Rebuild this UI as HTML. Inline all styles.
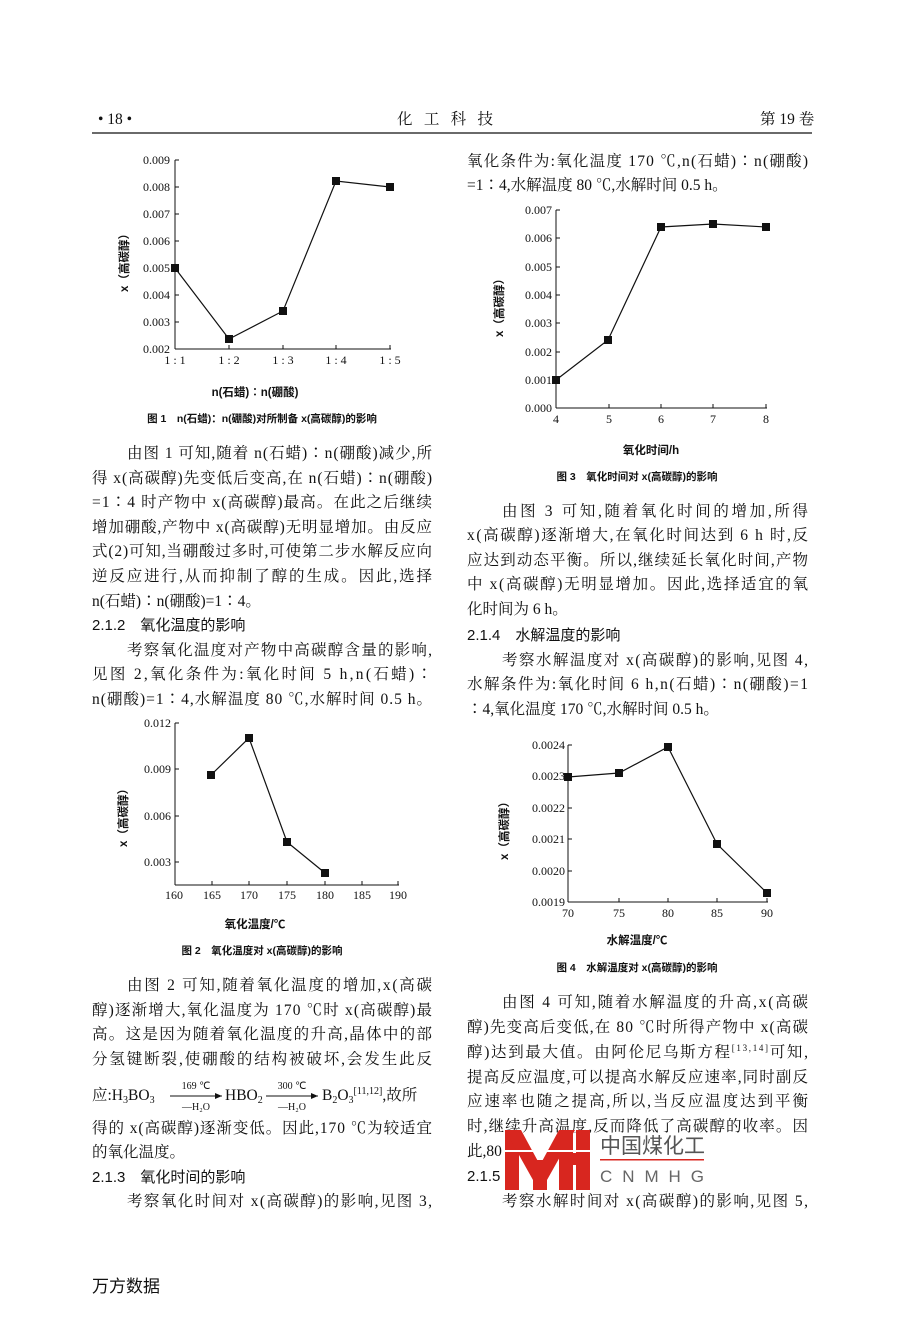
<!DOCTYPE html>
<html><head><meta charset="utf-8"><style>
html,body{margin:0;padding:0;background:#fff;}
svg{display:block;}
.t{font-family:"Liberation Serif","Noto Serif CJK SC","Noto Sans CJK SC",serif;font-size:15.5px;fill:#111;}
.h{font-family:"Liberation Sans","Noto Sans CJK SC",sans-serif;font-size:15px;fill:#111;}
.tk{font-family:"Liberation Serif",serif;font-size:12px;fill:#111;}
.lb{font-family:"Liberation Sans","Noto Sans CJK SC",sans-serif;font-size:11.5px;fill:#111;font-weight:bold;}
.cp{font-family:"Liberation Sans","Noto Sans CJK SC",sans-serif;font-size:10.5px;fill:#111;font-weight:bold;}
</style></head><body>
<svg width="904" height="1320" viewBox="0 0 904 1320" xmlns="http://www.w3.org/2000/svg">
<rect width="904" height="1320" fill="#fff"/>
<!-- header -->
<text class="t" x="98" y="124">•  18  •</text>
<text class="t" x="397" y="124" textLength="96" lengthAdjust="spacing">化 工 科 技</text>
<text class="t" x="760" y="124">第 19 卷</text>
<line x1="92" y1="133" x2="812" y2="133" stroke="#111" stroke-width="1.3"/>

<!-- Figure 1 -->
<g stroke="#111" fill="none" stroke-width="1">
<line x1="175" y1="160" x2="175" y2="349"/><line x1="175" y1="349" x2="391" y2="349"/>
<g stroke-width="1"><line x1="175" y1="160" x2="179" y2="160"/><line x1="175" y1="187" x2="179" y2="187"/><line x1="175" y1="214" x2="179" y2="214"/><line x1="175" y1="241" x2="179" y2="241"/><line x1="175" y1="268" x2="179" y2="268"/><line x1="175" y1="295" x2="179" y2="295"/><line x1="175" y1="322" x2="179" y2="322"/>
<line x1="229" y1="349" x2="229" y2="345"/><line x1="283" y1="349" x2="283" y2="345"/><line x1="336" y1="349" x2="336" y2="345"/><line x1="390" y1="349" x2="390" y2="345"/></g>
<polyline points="175,268 229,339 283,311 336,181 390,187" stroke-width="1.2"/>
</g>
<g fill="#111"><rect x="171" y="264" width="8" height="8"/><rect x="225" y="335" width="8" height="8"/><rect x="279" y="307" width="8" height="8"/><rect x="332" y="177" width="8" height="8"/><rect x="386" y="183" width="8" height="8"/></g>
<g class="tk" text-anchor="end"><text x="170" y="164">0.009</text><text x="170" y="191">0.008</text><text x="170" y="218">0.007</text><text x="170" y="245">0.006</text><text x="170" y="272">0.005</text><text x="170" y="299">0.004</text><text x="170" y="326">0.003</text><text x="170" y="353">0.002</text></g>
<g class="tk" text-anchor="middle"><text x="175" y="364">1 : 1</text><text x="229" y="364">1 : 2</text><text x="283" y="364">1 : 3</text><text x="336" y="364">1 : 4</text><text x="390" y="364">1 : 5</text></g>
<text class="lb" transform="translate(128,260) rotate(-90)" text-anchor="middle">x（高碳醇）</text>
<text class="lb" x="255" y="396" text-anchor="middle">n(石蜡)∶n(硼酸)</text>
<text class="cp" x="262" y="422" text-anchor="middle">图 1　n(石蜡)：n(硼酸)对所制备 x(高碳醇)的影响</text>

<!-- Left text block 1 -->
<g class="t">
<text x="127" y="458" textLength="305" lengthAdjust="spacing">由图 1 可知,随着 n(石蜡)∶n(硼酸)减少,所</text>
<text x="92" y="483" textLength="340" lengthAdjust="spacing">得 x(高碳醇)先变低后变高,在 n(石蜡)∶n(硼酸)</text>
<text x="92" y="507" textLength="340" lengthAdjust="spacing">=1∶4 时产物中 x(高碳醇)最高。在此之后继续</text>
<text x="92" y="532" textLength="340" lengthAdjust="spacing">增加硼酸,产物中 x(高碳醇)无明显增加。由反应</text>
<text x="92" y="556" textLength="340" lengthAdjust="spacing">式(2)可知,当硼酸过多时,可使第二步水解反应向</text>
<text x="92" y="581" textLength="340" lengthAdjust="spacing">逆反应进行,从而抑制了醇的生成。因此,选择</text>
<text x="92" y="606">n(石蜡)∶n(硼酸)=1∶4。</text>
<text x="92" y="630" class="h">2.1.2　氧化温度的影响</text>
<text x="127" y="655" textLength="305" lengthAdjust="spacing">考察氧化温度对产物中高碳醇含量的影响,</text>
<text x="92" y="679" textLength="340" lengthAdjust="spacing">见图 2,氧化条件为:氧化时间 5 h,n(石蜡)∶</text>
<text x="92" y="704" textLength="340" lengthAdjust="spacing">n(硼酸)=1∶4,水解温度 80 ℃,水解时间 0.5 h。</text>
</g>

<!-- Figure 2 -->
<g stroke="#111" fill="none" stroke-width="1">
<line x1="175" y1="723" x2="175" y2="885"/><line x1="175" y1="885" x2="399" y2="885"/>
<line x1="175" y1="723" x2="179" y2="723"/><line x1="175" y1="769" x2="179" y2="769"/><line x1="175" y1="816" x2="179" y2="816"/><line x1="175" y1="862" x2="179" y2="862"/>
<line x1="212" y1="885" x2="212" y2="881"/><line x1="249" y1="885" x2="249" y2="881"/><line x1="287" y1="885" x2="287" y2="881"/><line x1="325" y1="885" x2="325" y2="881"/><line x1="362" y1="885" x2="362" y2="881"/><line x1="398" y1="885" x2="398" y2="881"/>
<polyline points="211,775 249,738 287,842 325,873" stroke-width="1.2"/>
</g>
<g fill="#111"><rect x="207" y="771" width="8" height="8"/><rect x="245" y="734" width="8" height="8"/><rect x="283" y="838" width="8" height="8"/><rect x="321" y="869" width="8" height="8"/></g>
<g class="tk" text-anchor="end"><text x="171" y="727">0.012</text><text x="171" y="773">0.009</text><text x="171" y="820">0.006</text><text x="171" y="866">0.003</text></g>
<g class="tk" text-anchor="middle"><text x="174" y="899">160</text><text x="212" y="899">165</text><text x="249" y="899">170</text><text x="287" y="899">175</text><text x="325" y="899">180</text><text x="362" y="899">185</text><text x="398" y="899">190</text></g>
<text class="lb" transform="translate(127,815) rotate(-90)" text-anchor="middle">x（高碳醇）</text>
<text class="lb" x="255" y="928" text-anchor="middle">氧化温度/℃</text>
<text class="cp" x="262" y="954" text-anchor="middle">图 2　氧化温度对 x(高碳醇)的影响</text>

<!-- Left text block 2 -->
<g class="t">
<text x="127" y="990" textLength="305" lengthAdjust="spacing">由图 2 可知,随着氧化温度的增加,x(高碳</text>
<text x="92" y="1015" textLength="340" lengthAdjust="spacing">醇)逐渐增大,氧化温度为 170 ℃时 x(高碳醇)最</text>
<text x="92" y="1039" textLength="340" lengthAdjust="spacing">高。这是因为随着氧化温度的升高,晶体中的部</text>
<text x="92" y="1064" textLength="340" lengthAdjust="spacing">分氢键断裂,使硼酸的结构被破坏,会发生此反</text>
<text x="92" y="1100">应:H<tspan font-size="10" dy="3">3</tspan><tspan dy="-3">BO</tspan><tspan font-size="10" dy="3">3</tspan></text>
<text x="225" y="1100">HBO<tspan font-size="10" dy="3">2</tspan></text>
<text x="322" y="1100">B<tspan font-size="10" dy="3">2</tspan><tspan dy="-3">O</tspan><tspan font-size="10" dy="3">3</tspan><tspan font-size="10" dy="-9">[11,12]</tspan><tspan dy="6">,故所</tspan></text>
<text x="92" y="1133" textLength="340" lengthAdjust="spacing">得的 x(高碳醇)逐渐变低。因此,170 ℃为较适宜</text>
<text x="92" y="1157">的氧化温度。</text>
<text x="92" y="1182" class="h">2.1.3　氧化时间的影响</text>
<text x="127" y="1206" textLength="305" lengthAdjust="spacing">考察氧化时间对 x(高碳醇)的影响,见图 3,</text>
</g>
<g stroke="#111" stroke-width="1"><line x1="170" y1="1096" x2="222" y2="1096"/><line x1="266" y1="1096" x2="318" y2="1096"/></g>
<polygon points="222,1096 215,1093 215,1099" fill="#111"/><polygon points="318,1096 311,1093 311,1099" fill="#111"/>
<g style="font-family:'Liberation Serif',serif;font-size:10px;fill:#111" text-anchor="middle">
<text x="196" y="1089">169 ℃</text><text x="196" y="1110">—H₂O</text>
<text x="292" y="1089">300 ℃</text><text x="292" y="1110">—H₂O</text></g>

<!-- Right column top -->
<g class="t">
<text x="467" y="166" textLength="341" lengthAdjust="spacing">氧化条件为:氧化温度 170 ℃,n(石蜡)∶n(硼酸)</text>
<text x="467" y="190">=1∶4,水解温度 80 ℃,水解时间 0.5 h。</text>
</g>

<!-- Figure 3 -->
<g stroke="#111" fill="none" stroke-width="1">
<line x1="556" y1="210" x2="556" y2="408"/><line x1="556" y1="408" x2="767" y2="408"/>
<line x1="556" y1="210" x2="560" y2="210"/><line x1="556" y1="238" x2="560" y2="238"/><line x1="556" y1="267" x2="560" y2="267"/><line x1="556" y1="295" x2="560" y2="295"/><line x1="556" y1="323" x2="560" y2="323"/><line x1="556" y1="352" x2="560" y2="352"/><line x1="556" y1="380" x2="560" y2="380"/>
<line x1="609" y1="408" x2="609" y2="404"/><line x1="661" y1="408" x2="661" y2="404"/><line x1="713" y1="408" x2="713" y2="404"/><line x1="766" y1="408" x2="766" y2="404"/>
<polyline points="556,380 608,340 661,227 713,224 766,227" stroke-width="1.2"/>
</g>
<g fill="#111"><rect x="552" y="376" width="8" height="8"/><rect x="604" y="336" width="8" height="8"/><rect x="657" y="223" width="8" height="8"/><rect x="709" y="220" width="8" height="8"/><rect x="762" y="223" width="8" height="8"/></g>
<g class="tk" text-anchor="end"><text x="552" y="214">0.007</text><text x="552" y="242">0.006</text><text x="552" y="271">0.005</text><text x="552" y="299">0.004</text><text x="552" y="327">0.003</text><text x="552" y="356">0.002</text><text x="552" y="384">0.001</text><text x="552" y="412">0.000</text></g>
<g class="tk" text-anchor="middle"><text x="556" y="423">4</text><text x="609" y="423">5</text><text x="661" y="423">6</text><text x="713" y="423">7</text><text x="766" y="423">8</text></g>
<text class="lb" transform="translate(503,305) rotate(-90)" text-anchor="middle">x（高碳醇）</text>
<text class="lb" x="651" y="454" text-anchor="middle">氧化时间/h</text>
<text class="cp" x="637" y="480" text-anchor="middle">图 3　氧化时间对 x(高碳醇)的影响</text>

<!-- Right text block 2 -->
<g class="t">
<text x="502" y="516" textLength="306" lengthAdjust="spacing">由图 3 可知,随着氧化时间的增加,所得</text>
<text x="467" y="540" textLength="341" lengthAdjust="spacing">x(高碳醇)逐渐增大,在氧化时间达到 6 h 时,反</text>
<text x="467" y="565" textLength="341" lengthAdjust="spacing">应达到动态平衡。所以,继续延长氧化时间,产物</text>
<text x="467" y="589" textLength="341" lengthAdjust="spacing">中 x(高碳醇)无明显增加。因此,选择适宜的氧</text>
<text x="467" y="614">化时间为 6 h。</text>
<text x="467" y="640" class="h">2.1.4　水解温度的影响</text>
<text x="502" y="665" textLength="306" lengthAdjust="spacing">考察水解温度对 x(高碳醇)的影响,见图 4,</text>
<text x="467" y="689" textLength="341" lengthAdjust="spacing">水解条件为:氧化时间 6 h,n(石蜡)∶n(硼酸)=1</text>
<text x="467" y="714">∶4,氧化温度 170 ℃,水解时间 0.5 h。</text>
</g>

<!-- Figure 4 -->
<g stroke="#111" fill="none" stroke-width="1">
<line x1="568" y1="745" x2="568" y2="902"/><line x1="568" y1="902" x2="768" y2="902"/>
<line x1="568" y1="745" x2="572" y2="745"/><line x1="568" y1="776" x2="572" y2="776"/><line x1="568" y1="808" x2="572" y2="808"/><line x1="568" y1="839" x2="572" y2="839"/><line x1="568" y1="871" x2="572" y2="871"/>
<line x1="619" y1="902" x2="619" y2="898"/><line x1="668" y1="902" x2="668" y2="898"/><line x1="717" y1="902" x2="717" y2="898"/><line x1="767" y1="902" x2="767" y2="898"/>
<polyline points="568,777 619,773 668,747 717,844 767,893" stroke-width="1.2"/>
</g>
<g fill="#111"><rect x="564" y="773" width="8" height="8"/><rect x="615" y="769" width="8" height="8"/><rect x="664" y="743" width="8" height="8"/><rect x="713" y="840" width="8" height="8"/><rect x="763" y="889" width="8" height="8"/></g>
<g class="tk" text-anchor="end"><text x="565" y="749">0.0024</text><text x="565" y="780">0.0023</text><text x="565" y="812">0.0022</text><text x="565" y="843">0.0021</text><text x="565" y="875">0.0020</text><text x="565" y="906">0.0019</text></g>
<g class="tk" text-anchor="middle"><text x="568" y="917">70</text><text x="619" y="917">75</text><text x="668" y="917">80</text><text x="717" y="917">85</text><text x="767" y="917">90</text></g>
<text class="lb" transform="translate(508,828) rotate(-90)" text-anchor="middle">x（高碳醇）</text>
<text class="lb" x="637" y="944" text-anchor="middle">水解温度/℃</text>
<text class="cp" x="637" y="971" text-anchor="middle">图 4　水解温度对 x(高碳醇)的影响</text>

<!-- Right text block 3 -->
<g class="t">
<text x="502" y="1007" textLength="306" lengthAdjust="spacing">由图 4 可知,随着水解温度的升高,x(高碳</text>
<text x="467" y="1032" textLength="341" lengthAdjust="spacing">醇)先变高后变低,在 80 ℃时所得产物中 x(高碳</text>
<text x="467" y="1057" textLength="341" lengthAdjust="spacing">醇)达到最大值。由阿伦尼乌斯方程<tspan font-size="9" dy="-6">[13,14]</tspan><tspan dy="6">可知,</tspan></text>
<text x="467" y="1082" textLength="341" lengthAdjust="spacing">提高反应温度,可以提高水解反应速率,同时副反</text>
<text x="467" y="1106" textLength="341" lengthAdjust="spacing">应速率也随之提高,所以,当反应温度达到平衡</text>
<text x="467" y="1131" textLength="341" lengthAdjust="spacing">时,继续升高温度,反而降低了高碳醇的收率。因</text>
<text x="467" y="1156">此,80</text>
<text x="467" y="1181" class="h">2.1.5</text>
<text x="502" y="1206" textLength="306" lengthAdjust="spacing">考察水解时间对 x(高碳醇)的影响,见图 5,</text>
</g>

<!-- Logo -->
<g fill="#d8261f">
<rect x="505" y="1130" width="14" height="60"/>
<polygon points="505,1130 521,1130 540,1165 559,1130 575,1130 547,1180 533,1180"/>
<rect x="533" y="1160" width="14" height="30"/>
<rect x="559" y="1130" width="14" height="60"/>
<rect x="576" y="1130" width="14" height="60"/>
<rect x="559" y="1153" width="31" height="12"/>
</g>
<rect x="505" y="1150" width="85" height="2" fill="#fff"/>
<text x="600" y="1153" style="font-family:'Noto Sans CJK SC',sans-serif;font-size:21px;fill:#555">中国煤化工</text>
<rect x="600" y="1159" width="104" height="1.5" fill="#d8261f"/>
<text x="600" y="1182" textLength="104" lengthAdjust="spacing" style="font-family:'Liberation Sans',sans-serif;font-size:17px;fill:#666">CNMHG</text>

<!-- Footer -->
<text x="92" y="1292" style="font-family:'Noto Sans CJK SC',sans-serif;font-size:17px;fill:#111">万方数据</text>
</svg>
</body></html>
